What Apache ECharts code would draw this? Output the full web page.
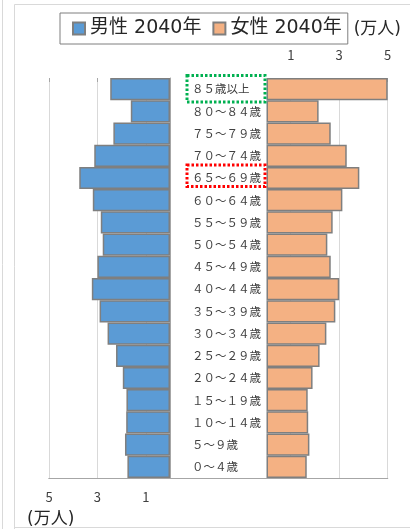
<!DOCTYPE html>
<html><head><meta charset="utf-8">
<script src="https://cdn.jsdelivr.net/npm/echarts@6/dist/echarts.min.js"></script>
<style>html,body{margin:0;padding:0;background:#fff}#c{width:410px;height:529px}</style>
</head><body><div id="c"></div>
<script>
const categories = ["８５歳以上","８０～８４歳","７５～７９歳","７０～７４歳","６５～６９歳","６０～６４歳","５５～５９歳","５０～５４歳","４５～４９歳","４０～４４歳","３５～３９歳","３０～３４歳","２５～２９歳","２０～２４歳","１５～１９歳","１０～１４歳","５～９歳","０～４歳"];
const male2040 = [2.47,1.62,2.34,3.13,3.75,3.19,2.86,2.78,3.0,3.23,2.91,2.58,2.23,1.95,1.80,1.81,1.86,1.76];
const female2040 = [5.0,2.15,2.65,3.31,3.83,3.13,2.73,2.51,2.65,3.0,2.84,2.47,2.19,1.90,1.70,1.72,1.77,1.66];
const tickValues = [1,3,5];
const seriesNames = ["男性 2040年","女性 2040年"];
const unitLabel = "(万人)";

const chart = echarts.init(document.getElementById('c'));
const gridCol = '#d9d9d9', axisCol = '#a6a6a6', txt = '#404040';
const font = 'Noto Sans CJK JP';
const numFont = 'Noto Sans CJK JP';

const option = {
  animation: false,
  backgroundColor: '#fff',
  legend: {
    data: seriesNames,
    left: 60, top: 13,
    padding: [6, 6, 6, 12],
    itemGap: 11, itemWidth: 12, itemHeight: 12,
    icon: 'rect',
    borderColor: '#7f7f7f', borderWidth: 1,
    textStyle: { fontSize: 19, color: '#262626', fontFamily: 'DejaVu Sans, Noto Sans CJK JP' }
  },
  grid: [
    { left: 49, right: 240, top: 78, bottom: 51 },
    { left: 266.5, right: 22.3, top: 78, bottom: 51 },
    { left: 49, right: 22.3, top: 78, bottom: 51 }
  ],
  xAxis: [
    { gridIndex: 0, type: 'value', min: 0, max: 5, inverse: true, position: 'bottom',
      axisLine: { show: false }, axisTick: { show: false, customValues: tickValues },
      axisLabel: { customValues: tickValues, margin: 13, fontSize: 13, color: txt, fontFamily: numFont },
      splitLine: { show: true, lineStyle: { color: gridCol, width: 1 } } },
    { gridIndex: 0, type: 'value', min: 0, max: 5, inverse: true, position: 'top',
      axisLine: { show: false }, axisTick: { show: true, inside: true, length: 4, customValues: tickValues, lineStyle: { color: axisCol } },
      axisLabel: { show: false }, splitLine: { show: false } },
    { gridIndex: 1, type: 'value', min: 0, max: 5, position: 'top',
      axisLine: { show: false }, axisTick: { show: true, inside: true, length: 4, customValues: tickValues, lineStyle: { color: axisCol } },
      axisLabel: { customValues: tickValues, margin: 16, fontSize: 13, color: txt, fontFamily: numFont },
      splitLine: { show: true, lineStyle: { color: gridCol, width: 1 } } },
    { gridIndex: 2, type: 'value', min: 0, max: 1, position: 'top',
      axisLine: { show: true, lineStyle: { color: axisCol } }, axisTick: { show: false }, axisLabel: { show: false }, splitLine: { show: false } },
    { gridIndex: 2, type: 'value', min: 0, max: 1, position: 'bottom',
      axisLine: { show: true, lineStyle: { color: axisCol } }, axisTick: { show: false }, axisLabel: { show: false }, splitLine: { show: false } }
  ],
  yAxis: [
    { gridIndex: 0, type: 'category', data: categories, inverse: true, position: 'right',
      axisLine: { show: true, onZero: false, lineStyle: { color: axisCol } }, axisTick: { show: false },
      axisLabel: { align: 'left', margin: 22, fontSize: 11.5, color: txt, fontFamily: font } },
    { gridIndex: 1, type: 'category', data: categories, inverse: true, position: 'left',
      axisLine: { show: false }, axisTick: { show: false }, axisLabel: { show: false } },
    { gridIndex: 2, type: 'value', show: false, min: 0, max: 1 }
  ],
  series: [
    { name: seriesNames[0], type: 'bar', xAxisIndex: 0, yAxisIndex: 0, data: male2040,
      barCategoryGap: '0%', itemStyle: { color: '#5b9bd5', borderColor: '#7f7f7f', borderWidth: 1.5 } },
    { name: seriesNames[1], type: 'bar', xAxisIndex: 2, yAxisIndex: 1, data: female2040,
      barCategoryGap: '0%', itemStyle: { color: '#f4b183', borderColor: '#7f7f7f', borderWidth: 1.5 } }
  ]
};
chart.setOption(option);

// annotations & frame
const yTop = chart.convertToPixel({ yAxisIndex: 0 }, categories[0]);
const yRed = chart.convertToPixel({ yAxisIndex: 0 }, categories[4]);
const x0 = chart.convertToPixel({ xAxisIndex: 0 }, 0);
const xf0 = chart.convertToPixel({ xAxisIndex: 2 }, 0);
const bx = x0 + 17, bw = xf0 - 1.5 - bx;
chart.setOption({
  graphic: [
    { type: 'line', shape: { x1: 2.5, y1: 0, x2: 2.5, y2: 529 }, style: { stroke: '#d9d9d9', lineWidth: 1 }, silent: true },
    { type: 'line', shape: { x1: 14.5, y1: 4.5, x2: 14.5, y2: 529 }, style: { stroke: '#d9d9d9', lineWidth: 1 }, silent: true },
    { type: 'line', shape: { x1: 14.5, y1: 4.5, x2: 410, y2: 4.5 }, style: { stroke: '#d9d9d9', lineWidth: 1 }, silent: true },
    { type: 'line', shape: { x1: 14.5, y1: 527.5, x2: 410, y2: 527.5 }, style: { stroke: '#d9d9d9', lineWidth: 1 }, silent: true },
    { type: 'rect', shape: { x: bx, y: yTop - 13.5, width: bw, height: 26.5 }, z: 100,
      style: { fill: null, stroke: '#00b050', lineWidth: 3, lineDash: [2.5, 2] }, silent: true },
    { type: 'rect', shape: { x: bx, y: yRed - 13, width: bw, height: 21.5 }, z: 100,
      style: { fill: null, stroke: '#ff0000', lineWidth: 3, lineDash: [2.5, 2] }, silent: true },
    { type: 'text', right: 9, top: 21, style: { text: unitLabel, fontSize: 17, fill: '#262626', fontFamily: 'DejaVu Sans, Noto Sans CJK JP' } },
    { type: 'text', left: 27, top: 511, style: { text: unitLabel, fontSize: 17, fill: '#262626', fontFamily: 'DejaVu Sans, Noto Sans CJK JP' } }
  ]
});
</script></body></html>
